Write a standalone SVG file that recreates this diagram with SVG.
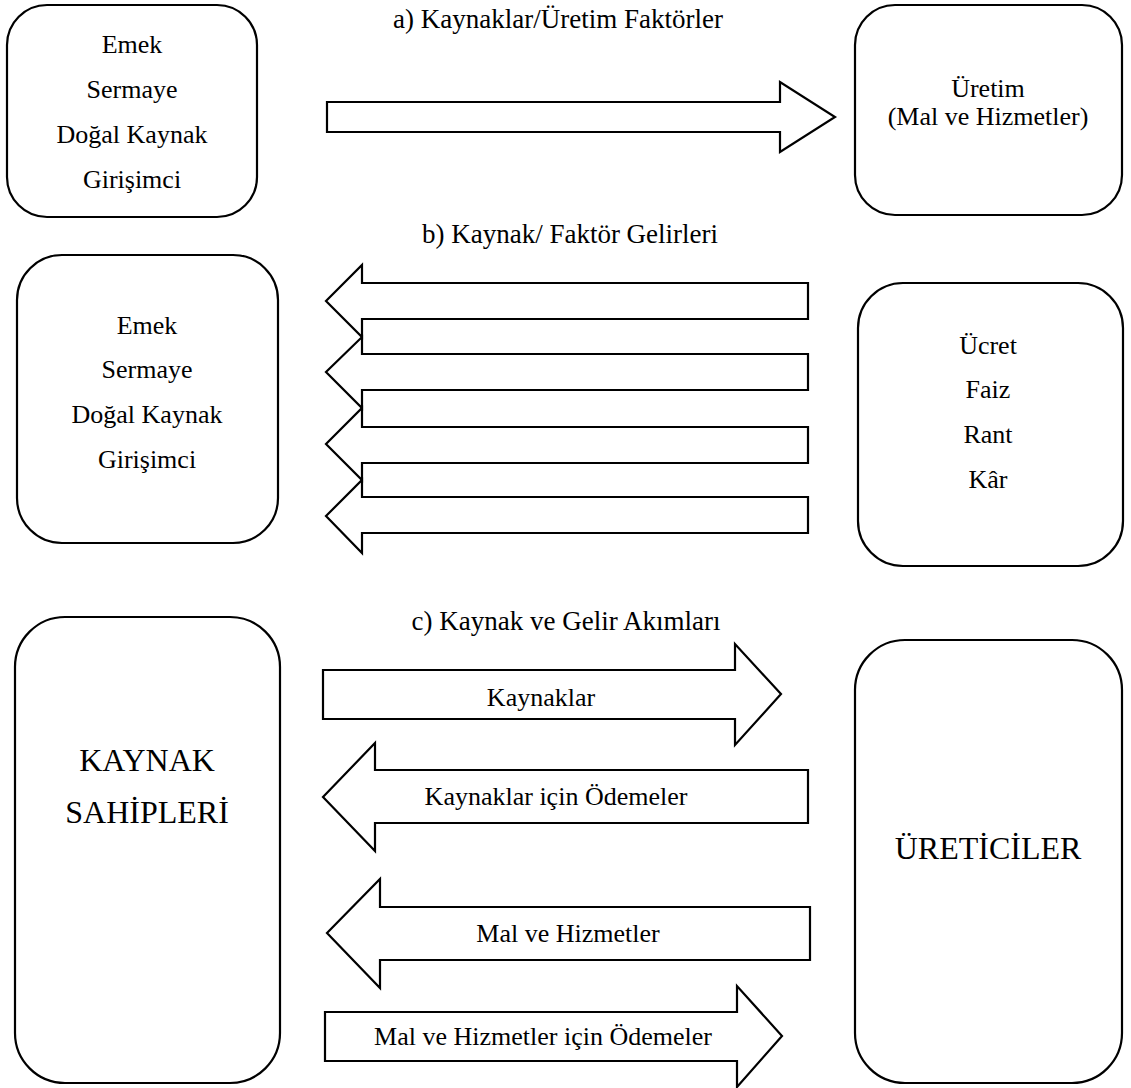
<svg xmlns="http://www.w3.org/2000/svg" width="1131" height="1088" viewBox="0 0 1131 1088">
<style>
.box{fill:#fff;stroke:#000;stroke-width:2.2}
.arr{fill:#fff;stroke:#000;stroke-width:2.2;stroke-linejoin:miter}
text{font-family:'Liberation Serif','Times New Roman',serif;fill:#000;text-anchor:middle}
.t{font-size:26px}
.h{font-size:27px}
.big{font-size:32px}
</style>
<rect width="1131" height="1088" fill="#fff"/>
<g id="title-a"><text class="h" x="558" y="28">a) Kaynaklar/Üretim Faktörler</text></g>
<g id="title-b"><text class="h" x="570" y="243">b) Kaynak/ Faktör Gelirleri</text></g>
<g id="title-c"><text class="h" x="566" y="630">c) Kaynak ve Gelir Akımları</text></g>

<g id="node-factors-a">
<rect class="box" x="7" y="5" width="250" height="212" rx="40"/>
<text class="t" x="132" y="53">Emek</text>
<text class="t" x="132" y="98">Sermaye</text>
<text class="t" x="132" y="143">Doğal Kaynak</text>
<text class="t" x="132" y="188">Girişimci</text>
</g>
<g id="node-uretim">
<rect class="box" x="855" y="5" width="267" height="210" rx="40"/>
<text class="t" x="988" y="97">Üretim</text>
<text class="t" x="988" y="125">(Mal ve Hizmetler)</text>
</g>
<g id="node-factors-b">
<rect class="box" x="17" y="255" width="261" height="288" rx="45"/>
<text class="t" x="147" y="334">Emek</text>
<text class="t" x="147" y="378">Sermaye</text>
<text class="t" x="147" y="423">Doğal Kaynak</text>
<text class="t" x="147" y="468">Girişimci</text>
</g>
<g id="node-gelirler">
<rect class="box" x="858" y="283" width="265" height="283" rx="45"/>
<text class="t" x="988" y="354">Ücret</text>
<text class="t" x="988" y="398">Faiz</text>
<text class="t" x="988" y="443">Rant</text>
<text class="t" x="988" y="488">Kâr</text>
</g>
<g id="node-kaynak-sahipleri">
<rect class="box" x="15" y="617" width="265" height="466" rx="50"/>
<text class="big" x="147" y="771">KAYNAK</text>
<text class="big" x="147" y="823">SAHİPLERİ</text>
</g>
<g id="node-ureticiler">
<rect class="box" x="855" y="640" width="267" height="443" rx="50"/>
<text class="big" x="988" y="859">ÜRETİCİLER</text>
</g>

<g id="connectors">
<polygon class="arr" points="327,102 780,102 780,82 835,117 780,152 780,132 327,132"/>
<polygon class="arr" points="808,283 362,283 362,265 326,301 362,337 362,319 808,319"/>
<polygon class="arr" points="808,354 362,354 362,337 326,372 362,408 362,390 808,390"/>
<polygon class="arr" points="808,427 362,427 362,408 326,444 362,480 362,463 808,463"/>
<polygon class="arr" points="808,497 362,497 362,480 326,516 362,553 362,533 808,533"/>
<polygon class="arr" points="323,670 735,670 735,644 781,694 735,745 735,719 323,719"/>
<polygon class="arr" points="808,770 375,770 375,743 323,797 375,851 375,823 808,823"/>
<polygon class="arr" points="810,907 380,907 380,879 327,933 380,988 380,960 810,960"/>
<polygon class="arr" points="325,1012 737,1012 737,986 782,1036 737,1087 737,1061 325,1061"/>
<text class="t" x="541" y="706">Kaynaklar</text>
<text class="t" x="556" y="805">Kaynaklar için Ödemeler</text>
<text class="t" x="568" y="942">Mal ve Hizmetler</text>
<text class="t" x="543" y="1045">Mal ve Hizmetler için Ödemeler</text>
</g>
</svg>
